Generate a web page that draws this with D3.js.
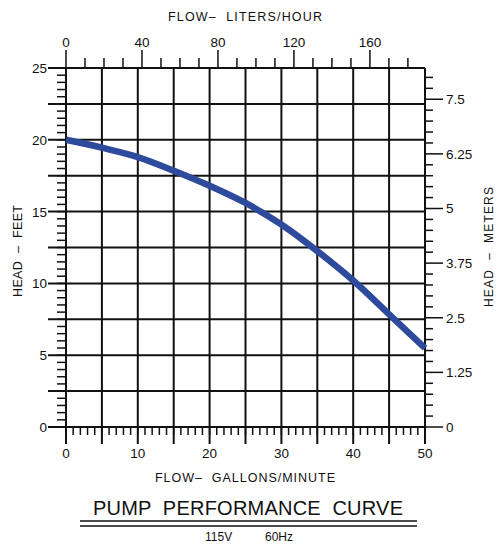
<!DOCTYPE html>
<html><head><meta charset="utf-8">
<script src="https://cdn.jsdelivr.net/npm/d3@7"></script>
<style>body{margin:0;background:#fff}svg{display:block}text{font-family:"Liberation Sans",Arial,sans-serif;fill:#111}</style>
</head><body><svg id="c" width="496" height="544"></svg>
<script>
// Data
const flowGpm = [0, 5, 10, 15, 20, 25, 30, 35, 40, 45, 50];
const headFt  = [20.0, 19.45, 18.8, 17.85, 16.8, 15.6, 14.1, 12.25, 10.2, 7.85, 5.5];
const bottomTickLabels = [0, 10, 20, 30, 40, 50];
const topTickLabels = [0, 40, 80, 120, 160];
const leftTickLabels = [0, 5, 10, 15, 20, 25];
const rightTickLabels = ["0", "1.25", "2.5", "3.75", "5", "6.25", "7.5"];

const svg = d3.select("#c");
const L = 66, R = 425, T = 68, B = 427;
const x = d3.scaleLinear().domain([0, 50]).range([L, R]);
const y = d3.scaleLinear().domain([0, 25]).range([B, T]);
const xTop = d3.scaleLinear().domain([0, 189]).range([L, R]);
const yR = d3.scaleLinear().domain([0, 8.215]).range([B, T]);

const ink = "#111";
const g = svg.append("g");

// minor ticks
g.selectAll(".lm").data(d3.range(0, 25.01, 0.5)).join("line")
  .attr("x1", L - 9).attr("x2", L).attr("y1", d => y(d)).attr("y2", d => y(d))
  .attr("stroke", ink).attr("stroke-width", 1.5);
g.selectAll(".bm").data(d3.range(0, 50.01, 1)).join("line")
  .attr("x1", d => x(d)).attr("x2", d => x(d)).attr("y1", B).attr("y2", B + 8)
  .attr("stroke", ink).attr("stroke-width", 1.5);
g.selectAll(".tm").data(d3.range(0, 185, 10)).join("line")
  .attr("x1", d => xTop(d)).attr("x2", d => xTop(d)).attr("y1", T).attr("y2", d => d % 40 === 0 ? T - 18 : T - 10)
  .attr("stroke", ink).attr("stroke-width", 1.5);
g.selectAll(".rm").data(d3.range(0, 8.2, 0.25)).join("line")
  .attr("x1", R).attr("x2", d => (Math.round(d * 100) % 125 === 0) ? R + 18 : R + 8)
  .attr("y1", d => yR(d)).attr("y2", d => yR(d))
  .attr("stroke", ink).attr("stroke-width", 1.5);

// grid
g.selectAll(".vg").data(d3.range(0, 50.01, 5)).join("line")
  .attr("x1", d => x(d)).attr("x2", d => x(d)).attr("y1", T).attr("y2", B + 17)
  .attr("stroke", ink).attr("stroke-width", 2);
g.selectAll(".hg").data(d3.range(0, 25.01, 2.5)).join("line")
  .attr("x1", L - 18).attr("x2", R).attr("y1", d => y(d)).attr("y2", d => y(d))
  .attr("stroke", ink).attr("stroke-width", 2);

// curve
const pts = flowGpm.map((f, i) => [f, headFt[i]]);
svg.append("path").datum(pts)
  .attr("d", d3.line().x(d => x(d[0])).y(d => y(d[1])).curve(d3.curveCatmullRom.alpha(0.5)))
  .attr("fill", "none").attr("stroke", "#2d4a9c").attr("stroke-width", 6.5);

// tick labels
const fs = 13.5;
svg.selectAll(".bl").data(bottomTickLabels).join("text")
  .attr("x", d => x(d)).attr("y", B + 31).attr("text-anchor", "middle").attr("font-size", fs).text(d => d);
svg.selectAll(".tl").data(topTickLabels).join("text")
  .attr("x", d => xTop(d)).attr("y", 46.5).attr("text-anchor", "middle").attr("font-size", fs).text(d => d);
svg.selectAll(".ll").data(leftTickLabels).join("text")
  .attr("x", L - 19).attr("y", d => y(d) + 5).attr("text-anchor", "end").attr("font-size", fs).text(d => d);
svg.selectAll(".rl").data(rightTickLabels).join("text")
  .attr("x", R + 21).attr("y", d => yR(+d) + 5).attr("text-anchor", "start").attr("font-size", fs).text(d => d);

// axis titles
svg.append("text").attr("x", 245).attr("y", 20.5).attr("text-anchor", "middle").attr("font-size", 12.5)
  .attr("textLength", 154).style("white-space", "pre").text("FLOW\u2013  LITERS/HOUR");
svg.append("text").attr("x", 245).attr("y", 481.5).attr("text-anchor", "middle").attr("font-size", 12.5)
  .attr("textLength", 180).style("white-space", "pre").text("FLOW\u2013  GALLONS/MINUTE");
svg.append("text").attr("transform", "translate(22,251) rotate(-90)").attr("text-anchor", "middle")
  .attr("font-size", 12.5).attr("textLength", 92).style("white-space", "pre").text("HEAD  \u2013  FEET");
svg.append("text").attr("transform", "translate(493,247) rotate(-90)").attr("text-anchor", "middle")
  .attr("font-size", 12).attr("textLength", 120).style("white-space", "pre").text("HEAD  \u2013  METERS");

// title
svg.append("text").attr("x", 248).attr("y", 515).attr("text-anchor", "middle").attr("font-size", 20)
  .attr("textLength", 310).style("white-space", "pre").text("PUMP  PERFORMANCE  CURVE");
svg.append("line").attr("x1", 80).attr("x2", 417).attr("y1", 521).attr("y2", 521).attr("stroke", ink).attr("stroke-width", 1.5);
svg.append("line").attr("x1", 80).attr("x2", 417).attr("y1", 526).attr("y2", 526).attr("stroke", ink).attr("stroke-width", 1.5);
svg.append("text").attr("x", 205).attr("y", 541).attr("text-anchor", "start").attr("font-size", 12).text("115V");
svg.append("text").attr("x", 293).attr("y", 541).attr("text-anchor", "end").attr("font-size", 12).text("60Hz");
</script></body></html>
